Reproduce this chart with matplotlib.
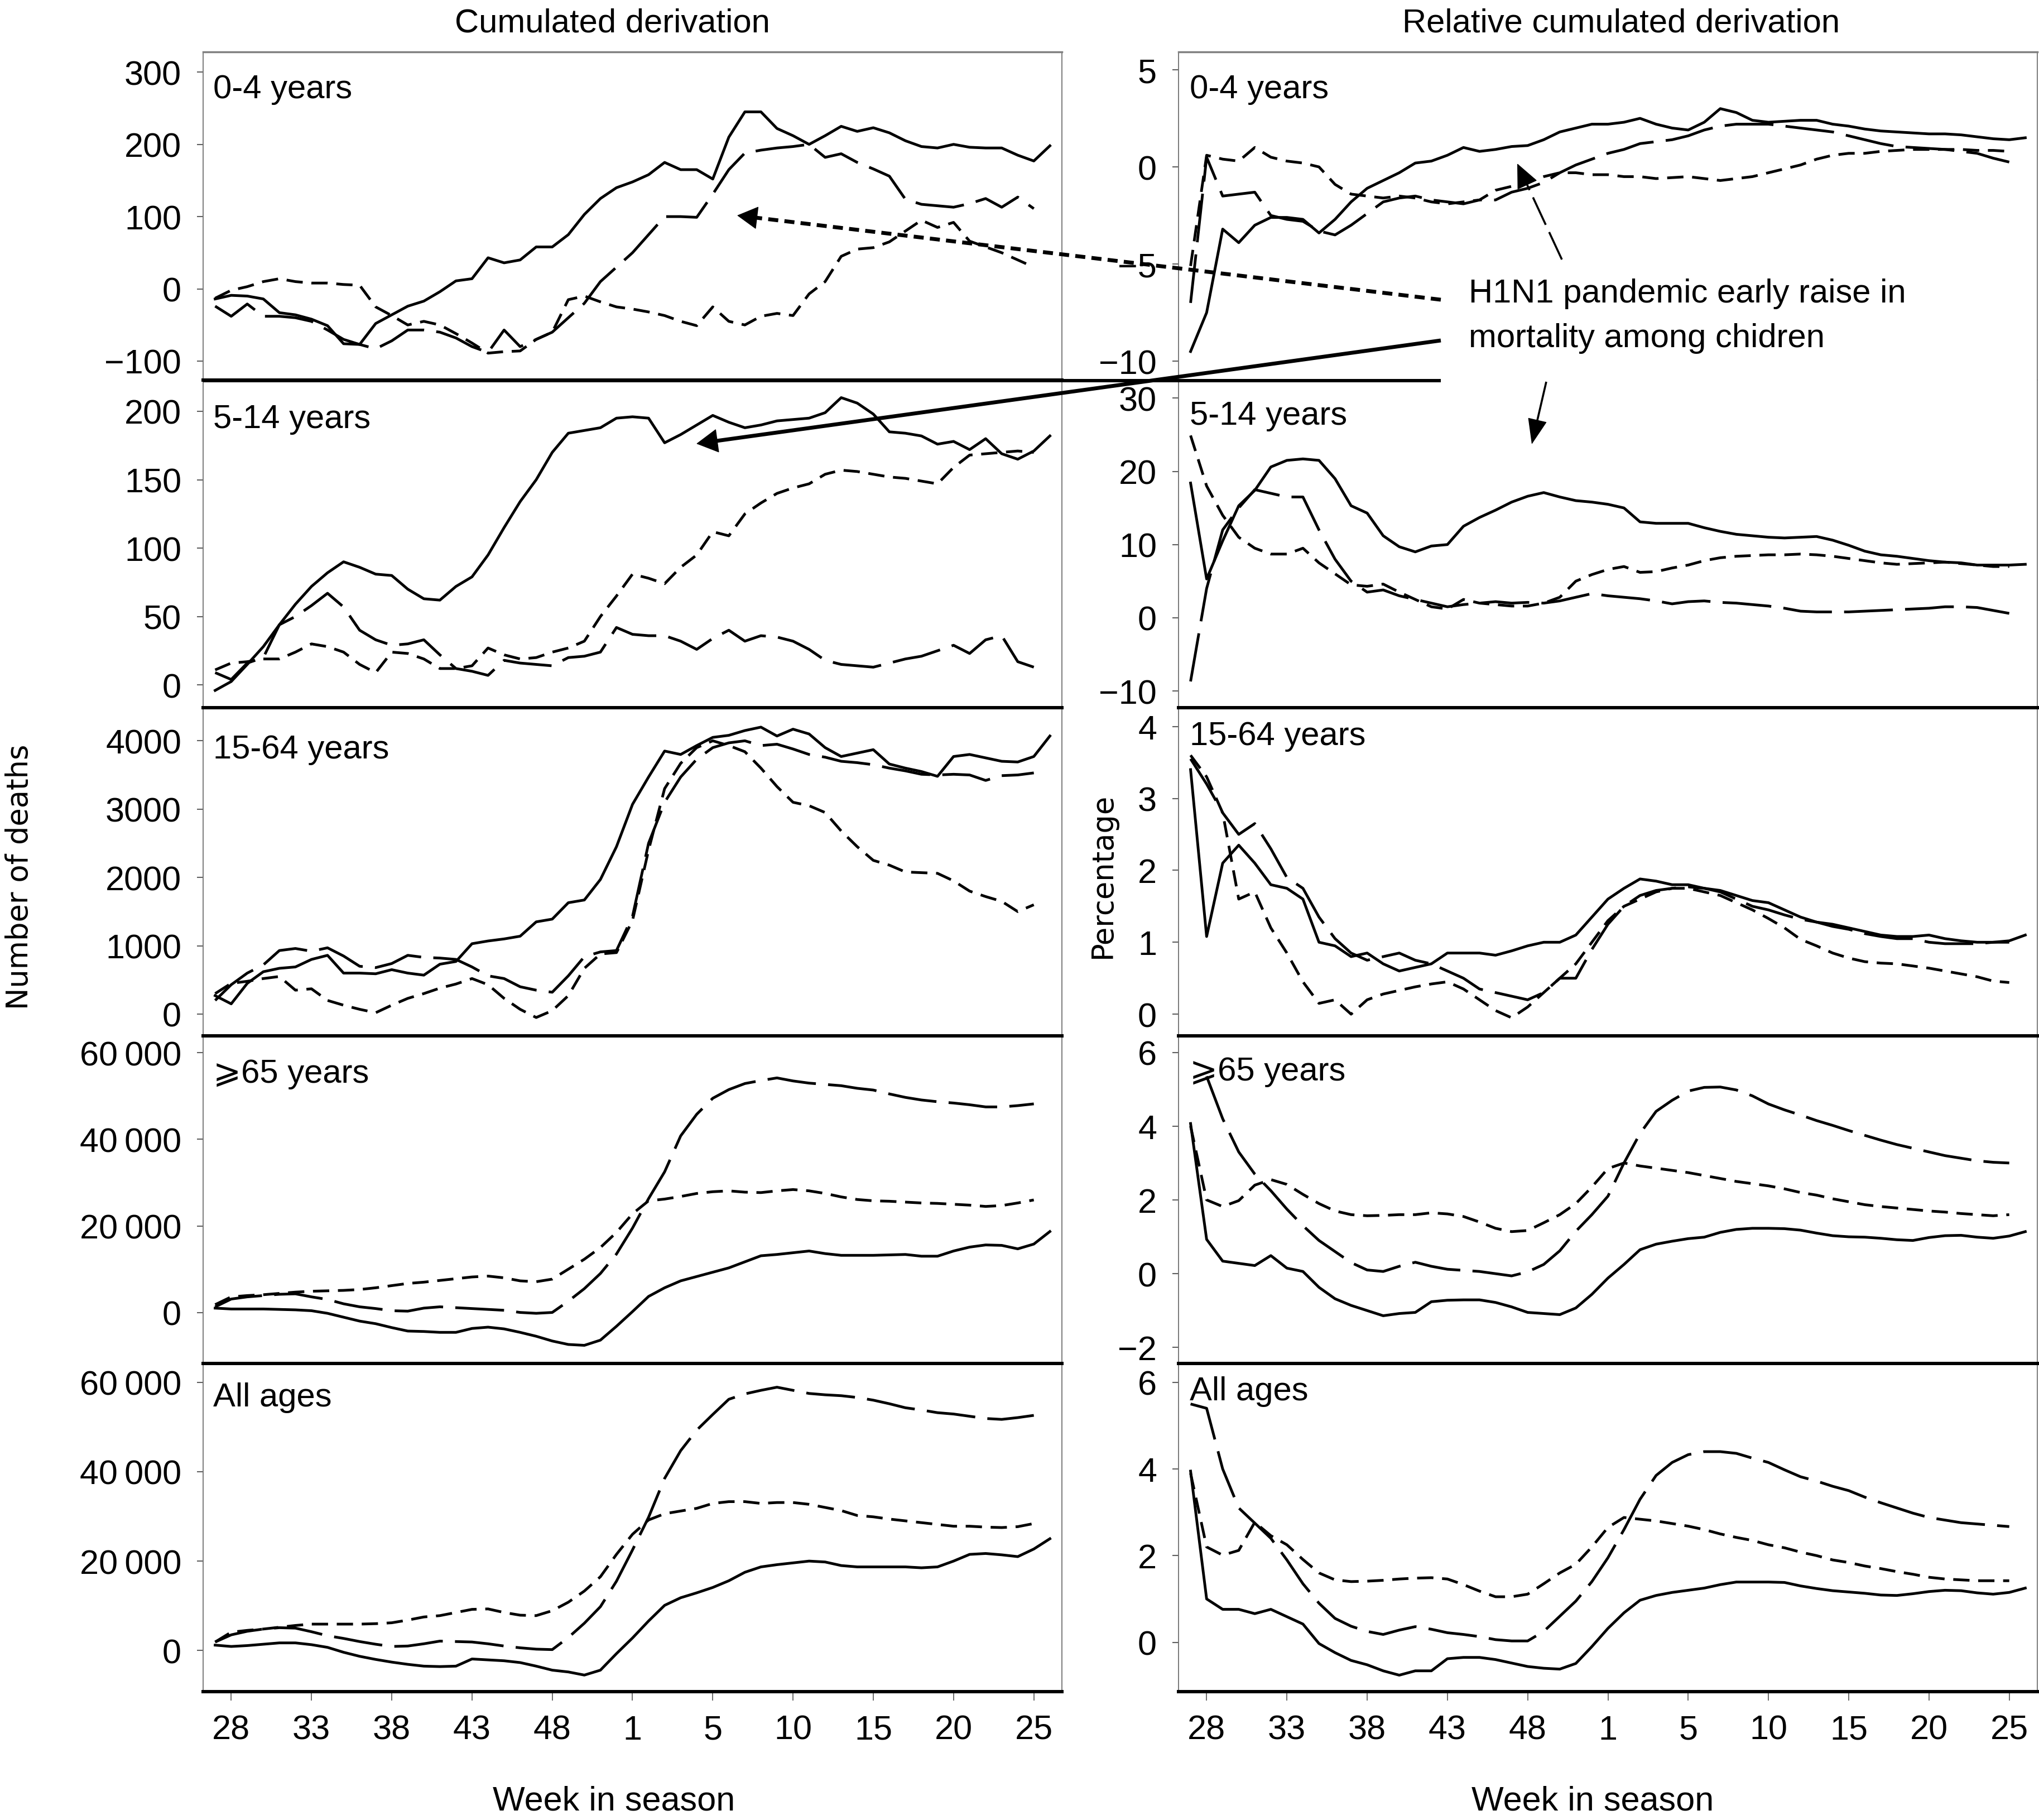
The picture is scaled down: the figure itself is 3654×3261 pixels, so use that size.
import math
import numpy as np
import matplotlib
matplotlib.use('Agg')
import matplotlib.pyplot as plt
from matplotlib.lines import Line2D
from matplotlib.patches import FancyArrowPatch

nan = float('nan')

# ---------------- data ----------------
week_labels = ['28', '33', '38', '43', '48', '1', '5', '10', '15', '20', '25']
week_tick_index = [1, 6, 11, 16, 21, 26, 31, 36, 41, 46, 51]
n_weeks = 53

col_titles = ['Cumulated derivation', 'Relative cumulated derivation']
panel_names = ['0-4 years', '5-14 years', '15-64 years', '\u2a7e65 years', 'All ages']

# Cumulated derivation (number of deaths)
l04_solid = [-14,-9,-10,-14,-33,-36,-42,-51,-76,-77, -48,-36,-24,-17,-4,11,14,43,36,40,
             58,58,75,103,125,140,148,158,175,165, 165,152,210,245,245,222,212,200,212,225,
             218,223,216,205,197,195,200,196,195,195, 185,177,198]
l04_long = [-24,-38,-21,-38,-38,-40,-45,-57,-70,-77, -83,-72,-57,-57,-60,-68,-80,-88,-57,-80,
            -70,-60,-40,-20,10,30,50,75,100,100, 99,131,165,188,192,195,197,200,182,187,
            175,166,156,124,117,115,113,118,125,113, 127,111,nan]
l04_short = [-13,-2,3,10,14,10,8,8,6,5, -25,-37,-50,-45,-50,-62,-75,-89,-87,-86,
             -70,-60,-15,-10,-18,-25,-28,-32,-37,-45, -51,-25,-45,-50,-38,-34,-37,-7,10,45,
             55,57,65,80,95,85,92,66,58,50, 40,30,nan]

l514_solid = [-4,2.5,15,28,44,59,72,82,90,86, 81,80,70,63,62,72,79,95,115,134,
              150,170,184,186,188,195,196,195,177,183, 190,197,192,188,190,193,194,195,199,210,
              206,198,185,184,182,176,178,172,180,169, 165,171,182]
l514_long = [9,4,16,20,44,50,58,67,57,40, 33,29,30,33,22,12,10,7,18,16,
             15,14,20,21,24,42,37,36,36,32, 26,34,40,32,36,35,32,26,18,15,
             14,13,16,19,21,25,29,23,33,36, 17,13,nan]
l514_short = [11,16,17,19,19,24,30,28,24,15, 9,24,23,19,12,12,14,27,22,19,
              20,24,27,32,50,65,81,78,74,86, 95,112,109,125,133,140,144,147,154,157,
              156,154,152,151,149,147,159,168,169,170, 171,170,nan]

l1564_solid = [270,150,450,620,670,690,800,860,600,600, 590,650,600,570,730,770,1030,1070,1100,1140,
               1350,1390,1630,1670,1970,2450,3070,3470,3850,3800, 3930,4050,4080,4150,4200,4070,4170,4100,3900,3770,
               3820,3870,3660,3600,3550,3480,3770,3800,3750,3700, 3690,3770,4070]
l1564_long = [200,430,600,720,930,960,920,970,850,700, 680,740,860,830,820,800,690,560,520,400,
              350,320,560,840,910,930,1430,2500,3100,3470, 3730,3900,3970,4000,3930,3950,3880,3800,3760,3700,
              3680,3650,3600,3560,3510,3500,3510,3500,3420,3490, 3500,3530,nan]
l1564_short = [300,450,480,520,550,350,370,200,130,70, 20,130,230,300,380,440,520,430,230,70,
               -50,50,270,670,880,900,1370,2400,3300,3670, 3900,4000,3930,3840,3600,3330,3100,3050,2950,2680,
               2450,2250,2180,2080,2070,2060,1950,1800,1720,1650, 1500,1600,nan]

l65_solid = [1000,800,800,800,700,600,400,-200,-1100,-2000, -2600,-3500,-4300,-4400,-4600,-4600,-3700,-3400,-3800,-4600,
             -5500,-6600,-7400,-7600,-6400,-3200,200,3700,5700,7300, 8300,9300,10300,11700,13100,13400,13800,14200,13600,13200,
             13200,13200,13300,13400,13000,13000,14200,15100,15600,15500, 14700,15800,18700]
l65_long = [1300,3100,3600,3900,4200,4300,3600,3000,2000,1300, 900,400,300,1000,1300,1100,900,700,500,0,
            -200,0,2600,5500,9000,13500,19500,26300,32500,40800, 45800,49500,51500,52900,53600,54200,53500,53000,52700,52400,
            51800,51400,50500,49700,49100,48700,48400,48000,47500,47500, 47800,48200,nan]
l65_short = [1800,3600,3900,4100,4400,4700,4900,5000,5100,5300, 5700,6200,6700,7000,7400,7800,8200,8400,8000,7300,
             7100,7700,10000,12300,15000,18500,22800,25800,26200,26800, 27500,27900,28100,27800,27700,28100,28400,28100,27500,26700,
             26100,25800,25700,25500,25300,25200,25000,24800,24500,24700, 25300,26000,nan]

lall_solid = [1200,900,1100,1400,1700,1700,1300,700,-400,-1300, -2000,-2600,-3100,-3500,-3600,-3500,-1900,-2100,-2300,-2700,
              -3500,-4400,-4800,-5500,-4400,-700,2800,6600,10100,11800, 12900,14100,15600,17500,18700,19200,19600,20000,19800,19000,
              18700,18700,18700,18700,18500,18700,20000,21500,21700,21400, 21000,22700,25000]
lall_long = [1900,3500,4300,4800,5100,5000,4200,3300,2700,2000, 1400,900,1000,1500,2100,2000,1900,1500,1000,600,
             300,200,2900,6100,9800,15500,22500,29800,38500,44700, 49300,52800,56200,57400,58200,58900,58200,57500,57200,57000,
             56600,56000,55200,54300,53800,53200,52900,52400,51900,51700, 52100,52600,nan]
lall_short = [1900,4100,4500,4800,5200,5600,5900,5900,5900,5900, 6000,6200,6800,7500,7800,8500,9200,9300,8500,7900,
              7800,8900,10800,13300,16500,21500,26000,29200,30600,31200, 31800,32900,33300,33300,32900,33100,33100,32700,32000,31300,
              30200,29900,29400,29000,28600,28200,27800,27800,27600,27500, 27700,28400,nan]

# Relative cumulated derivation (percentage)
r04_solid = [-9.5,-7.5,-3.2,-3.9,-3.0,-2.6,-2.6,-2.7,-3.4,-2.7, -1.8,-1.1,-0.7,-0.3,0.2,0.3,0.6,1.0,0.8,0.9,
             1.05,1.1,1.4,1.8,2.0,2.2,2.2,2.3,2.5,2.2, 2.0,1.9,2.3,3.0,2.8,2.4,2.3,2.35,2.4,2.4,
             2.2,2.1,1.95,1.85,1.8,1.75,1.7,1.7,1.65,1.55, 1.45,1.4,1.5]
r04_long = [-7.0,0.5,-1.5,-1.4,-1.3,-2.5,-2.7,-2.8,-3.3,-3.5, -3.0,-2.4,-1.8,-1.6,-1.5,-1.7,-1.8,-1.9,-1.7,-1.7,
            -1.3,-1.1,-0.8,-0.3,0.1,0.4,0.7,0.9,1.2,1.3, 1.4,1.6,1.9,2.1,2.2,2.2,2.2,2.1,2.0,1.9,
            1.8,1.6,1.4,1.2,1.05,1.0,0.95,0.9,0.8,0.7, 0.45,0.25,nan]
r04_short = [-5.1,0.6,0.4,0.3,1.0,0.5,0.3,0.2,0.0,-0.9, -1.4,-1.5,-1.6,-1.5,-1.6,-1.8,-1.9,-1.8,-1.7,-1.2,
             -1.0,-0.8,-0.5,-0.3,-0.3,-0.4,-0.4,-0.5,-0.5,-0.6, -0.55,-0.5,-0.6,-0.7,-0.6,-0.5,-0.3,-0.1,0.1,0.4,
             0.6,0.7,0.7,0.8,0.85,0.9,0.9,0.9,0.9,0.85, 0.85,0.8,nan]

r514_solid = [18.4,5.3,10.5,15.3,17.4,20.6,21.5,21.7,21.5,19.0, 15.3,14.3,11.2,9.7,9.0,9.8,10.0,12.5,13.7,14.7,
              15.8,16.6,17.1,16.5,16.0,15.8,15.5,15.0,13.1,12.9, 12.9,12.9,12.3,11.8,11.4,11.2,11.0,10.9,11.0,11.1,
              10.6,9.9,9.1,8.6,8.4,8.1,7.8,7.6,7.5,7.2, 7.2,7.2,7.3]
r514_long = [-8.7,4,12,15,17.5,17,16.5,16.5,12,8, 5,3.5,3.8,3.0,2.5,2.0,1.5,1.8,2.0,2.2,
             2.0,2.1,2.0,2.3,2.8,3.3,3.0,2.8,2.6,2.3, 1.9,2.2,2.3,2.1,2.0,1.8,1.6,1.3,0.9,0.8,
             0.8,0.8,0.9,1.0,1.1,1.2,1.3,1.5,1.5,1.4, 1.0,0.6,nan]
r514_short = [24.9,18,14,11,9.5,8.7,8.7,9.5,7.5,6, 4.5,4.3,4.6,3.5,2.5,1.5,1.2,2.5,2.0,1.8,
              1.6,1.6,2.0,2.8,5.0,5.9,6.6,7.0,6.2,6.3, 6.8,7.2,7.8,8.2,8.4,8.5,8.6,8.6,8.7,8.6,
              8.4,8.1,7.8,7.5,7.3,7.4,7.5,7.6,7.4,7.2, 7.0,7.0,nan]

r1564_solid = [3.4,1.08,2.1,2.35,2.1,1.8,1.75,1.6,1.0,0.95, 0.8,0.85,0.7,0.6,0.65,0.7,0.85,0.85,0.85,0.82,
               0.88,0.95,1.0,1.0,1.1,1.35,1.6,1.75,1.88,1.85, 1.8,1.8,1.75,1.72,1.65,1.58,1.55,1.45,1.35,1.28,
               1.25,1.2,1.15,1.1,1.08,1.08,1.1,1.05,1.02,1.0, 1.0,1.02,1.1]
r1564_long = [3.55,3.2,2.8,2.5,2.65,2.3,1.9,1.75,1.35,1.05, 0.85,0.75,0.8,0.85,0.75,0.7,0.6,0.5,0.35,0.3,
              0.25,0.2,0.3,0.5,0.5,0.9,1.25,1.5,1.65,1.72, 1.75,1.77,1.75,1.7,1.6,1.5,1.45,1.38,1.32,1.28,
              1.22,1.18,1.12,1.08,1.05,1.05,1.0,0.98,0.98,0.98, 1.0,1.0,nan]
r1564_short = [3.6,3.3,2.8,1.6,1.7,1.2,0.85,0.45,0.15,0.2, 0.0,0.2,0.28,0.33,0.38,0.42,0.45,0.35,0.2,0.05,
               -0.05,0.1,0.3,0.5,0.7,1.0,1.3,1.5,1.6,1.7, 1.75,1.75,1.7,1.65,1.55,1.45,1.33,1.2,1.04,0.95,
               0.85,0.78,0.73,0.71,0.7,0.67,0.64,0.6,0.56,0.52, 0.46,0.44,nan]

r65_solid = [4.07,0.93,0.34,0.28,0.22,0.49,0.15,0.06,-0.37,-0.68, -0.86,-1.0,-1.14,-1.08,-1.05,-0.76,-0.72,-0.71,-0.71,-0.78,
             -0.9,-1.05,-1.08,-1.11,-0.93,-0.56,-0.12,0.25,0.65,0.8, 0.88,0.95,0.99,1.12,1.2,1.23,1.23,1.22,1.18,1.1,
             1.03,1.0,0.99,0.96,0.92,0.9,0.98,1.03,1.04,0.99, 0.96,1.02,1.14]
r65_long = [nan,5.35,4.2,3.3,2.7,2.25,1.75,1.3,0.9,0.6, 0.3,0.1,0.06,0.2,0.31,0.2,0.12,0.09,0.06,0.0,
            -0.06,0.05,0.25,0.62,1.15,1.6,2.1,3.0,3.8,4.4, 4.7,4.95,5.05,5.06,4.98,4.82,4.6,4.44,4.3,4.15,
            4.02,3.88,3.75,3.62,3.5,3.4,3.3,3.2,3.13,3.06, 3.02,3.0,nan]
r65_short = [4.0,2.0,1.82,1.98,2.4,2.55,2.42,2.15,1.9,1.7, 1.6,1.57,1.58,1.6,1.6,1.65,1.62,1.55,1.4,1.23,
             1.14,1.17,1.38,1.6,1.9,2.35,2.85,3.0,2.92,2.86, 2.8,2.74,2.66,2.58,2.5,2.44,2.38,2.3,2.2,2.13,
             2.03,1.95,1.87,1.82,1.78,1.74,1.7,1.67,1.63,1.6, 1.57,1.6,nan]

rall_solid = [3.95,1.0,0.76,0.76,0.66,0.76,0.59,0.42,-0.03,-0.24, -0.42,-0.52,-0.66,-0.76,-0.66,-0.66,-0.38,-0.35,-0.35,-0.4,
              -0.48,-0.56,-0.6,-0.62,-0.49,-0.1,0.32,0.68,0.97,1.08, 1.15,1.2,1.25,1.33,1.39,1.39,1.39,1.38,1.3,1.24,
              1.19,1.16,1.13,1.09,1.08,1.12,1.17,1.2,1.19,1.14, 1.11,1.15,1.25]
rall_long = [5.5,5.4,4.0,3.1,2.75,2.4,1.9,1.35,0.9,0.55, 0.37,0.25,0.18,0.28,0.36,0.3,0.22,0.18,0.13,0.06,
             0.03,0.03,0.25,0.6,0.95,1.4,1.95,2.6,3.3,3.85, 4.15,4.33,4.4,4.4,4.36,4.25,4.15,3.98,3.82,3.72,
             3.6,3.5,3.35,3.22,3.1,2.98,2.88,2.82,2.76,2.73, 2.7,2.67,nan]
rall_short = [3.9,2.2,2.01,2.12,2.77,2.46,2.25,1.91,1.6,1.44, 1.4,1.41,1.43,1.46,1.48,1.49,1.46,1.33,1.18,1.05,
              1.05,1.11,1.35,1.6,1.8,2.2,2.65,2.88,2.84,2.8, 2.74,2.68,2.6,2.5,2.42,2.35,2.25,2.18,2.08,2.0,
              1.9,1.84,1.76,1.7,1.63,1.57,1.5,1.46,1.44,1.42, 1.42,1.42,nan]

left_series = [(l04_solid, l04_long, l04_short), (l514_solid, l514_long, l514_short),
               (l1564_solid, l1564_long, l1564_short), (l65_solid, l65_long, l65_short),
               (lall_solid, lall_long, lall_short)]
right_series = [(r04_solid, r04_long, r04_short), (r514_solid, r514_long, r514_short),
                (r1564_solid, r1564_long, r1564_short), (r65_solid, r65_long, r65_short),
                (rall_solid, rall_long, rall_short)]

TS = '\u2009'
left_yticks = [[-100, 0, 100, 200, 300], [0, 50, 100, 150, 200], [0, 1000, 2000, 3000, 4000],
               [0, 20000, 40000, 60000], [0, 20000, 40000, 60000]]
left_yticklabels = [['\u2212100', '0', '100', '200', '300'], ['0', '50', '100', '150', '200'],
                    ['0', '1000', '2000', '3000', '4000'],
                    ['0', '20' + TS + '000', '40' + TS + '000', '60' + TS + '000'],
                    ['0', '20' + TS + '000', '40' + TS + '000', '60' + TS + '000']]
right_yticks = [[-10, -5, 0, 5], [-10, 0, 10, 20, 30], [0, 1, 2, 3, 4], [-2, 0, 2, 4, 6], [0, 2, 4, 6]]
right_yticklabels = [['\u221210', '\u22125', '0', '5'], ['\u221210', '0', '10', '20', '30'],
                     ['0', '1', '2', '3', '4'], ['\u22122', '0', '2', '4', '6'], ['0', '2', '4', '6']]
left_ylims = [(-126, 328), (-16.7, 223), (-317, 4483), (-11842, 63947), (-9204, 64160)]
right_ylims = [(-10.96, 5.92), (-12.3, 32.5), (-0.30, 4.26), (-2.44, 6.45), (-1.14, 6.43)]

annotation_lines = ['H1N1 pandemic early raise in', 'mortality among chidren']

# ---------------- figure ----------------
W, H = 3654, 3262
DPI = 100
plt.rcParams['font.family'] = ['Liberation Sans', 'DejaVu Sans']
fig = plt.figure(figsize=(W / DPI, H / DPI), dpi=DPI)

col_left_px = [364, 2112]
col_w_px = 1539
row_top_px = 94
row_h_px = 587.6
label_off_left = [39, 42, 47, 40, 33]
label_off_right = [39, 36, 23, 36, 22]

LW = 3.5
line_styles = ['-', (0, (18, 4.5)), (0, (6, 3.2))]
x = np.arange(n_weeks)

for c in range(2):
    series = left_series if c == 0 else right_series
    yticks = left_yticks if c == 0 else right_yticks
    ylabels = left_yticklabels if c == 0 else right_yticklabels
    ylims = left_ylims if c == 0 else right_ylims
    offs = label_off_left if c == 0 else label_off_right
    for r in range(5):
        top = row_top_px + r * row_h_px
        ax = fig.add_axes([col_left_px[c] / W, 1 - (top + row_h_px) / H, col_w_px / W, row_h_px / H])
        for s, ls in zip(series[r], line_styles):
            assert len(s) == n_weeks
            ax.plot(x, np.array(s, dtype=float), color='black', lw=LW, linestyle=ls,
                    solid_joinstyle='round', dash_joinstyle='round')
        ax.set_xlim(-0.75, 52.75)
        ax.set_ylim(*ylims[r])
        ax.set_yticks(yticks[r])
        ax.set_yticklabels(ylabels[r])
        ax.tick_params(axis='y', direction='out', length=8, width=1.5, color='#606060',
                       pad=20, labelsize=44)
        if r == 4:
            ax.set_xticks(week_tick_index)
            ax.set_xticklabels(week_labels)
            ax.tick_params(axis='x', direction='out', length=11.5, width=1.3, color='#606060',
                           pad=18, labelsize=44)
        else:
            ax.set_xticks([])
        for side in ('left', 'right'):
            ax.spines[side].set_color('#707070')
            ax.spines[side].set_linewidth(1.3)
        if r == 0:
            ax.spines['top'].set_color('#808080')
            ax.spines['top'].set_linewidth(2.5)
        else:
            ax.spines['top'].set_color('black')
            ax.spines['top'].set_linewidth(4.3)
        ax.spines['bottom'].set_color('black')
        ax.spines['bottom'].set_linewidth(4.3)
        if c == 1 and r == 0:
            ax.spines['bottom'].set_visible(False)
        if c == 1 and r == 1:
            ax.spines['top'].set_visible(False)
        ax.text((18 if c == 0 else 20) / col_w_px, 1 - offs[r] / row_h_px, panel_names[r],
                transform=ax.transAxes, ha='left', va='top', fontsize=43)

# boundary line between the first two rows extended across the gap
fig.add_artist(Line2D([364 / W, 2582 / W], [1 - 683 / H, 1 - 683 / H], transform=fig.transFigure,
                      color='black', lw=4.3, solid_capstyle='butt'))

# titles and axis labels
fig.text(1097 / W, 1 - 57 / H, col_titles[0], ha='center', va='baseline', fontsize=43)
fig.text(2905 / W, 1 - 57 / H, col_titles[1], ha='center', va='baseline', fontsize=43)
fig.text(1100 / W, 1 - 3244 / H, 'Week in season', ha='center', va='baseline', fontsize=44)
fig.text(2854 / W, 1 - 3244 / H, 'Week in season', ha='center', va='baseline', fontsize=44)
fig.text(35 / W, 0.5184, 'Number of deaths', rotation=90, ha='center', va='center',
         fontsize=38, family='DejaVu Sans')
fig.text(1976 / W, 0.519, 'Percentage', rotation=90, ha='center', va='center',
         fontsize=38, family='DejaVu Sans')

# annotation text
fig.text(2632 / W, 1 - 542 / H, annotation_lines[0], ha='left', va='baseline', fontsize=43)
fig.text(2632 / W, 1 - 622 / H, annotation_lines[1], ha='left', va='baseline', fontsize=43)


def arrow(start, tip, lw, ls, head_len_px, head_half_px):
    sx, sy = start
    tx, ty = tip
    dx, dy = tx - sx, ty - sy
    L = math.hypot(dx, dy)
    ux, uy = dx / L, dy / L
    ex, ey = tx - ux * head_len_px * 0.8, ty - uy * head_len_px * 0.8
    fig.add_artist(Line2D([sx / W, ex / W], [1 - sy / H, 1 - ey / H], transform=fig.transFigure,
                          color='black', lw=lw, linestyle=ls, solid_capstyle='butt',
                          dash_capstyle='butt'))
    bx, by = tx - ux * head_len_px * 1.2, ty - uy * head_len_px * 1.2
    pt = DPI / 72.0
    fig.add_artist(FancyArrowPatch((bx / W, 1 - by / H), (tx / W, 1 - ty / H),
                                   transform=fig.transFigure,
                                   arrowstyle='-|>,head_length=%g,head_width=%g'
                                   % (head_len_px / pt, head_half_px / pt),
                                   mutation_scale=1, color='black', lw=1.0,
                                   shrinkA=0, shrinkB=0))


arrow((2582, 538), (1321, 387), 5.0, (0, (2.6, 1.6)), 34, 19)
arrow((2582, 611), (1248, 796), 5.0, '-', 36, 20)
arrow((2799, 466), (2719, 294), 2.6, (0, (15, 4)), 40, 18)
arrow((2771, 685), (2745, 797), 2.6, '-', 42, 16)

fig.savefig('out.png', dpi=DPI)
